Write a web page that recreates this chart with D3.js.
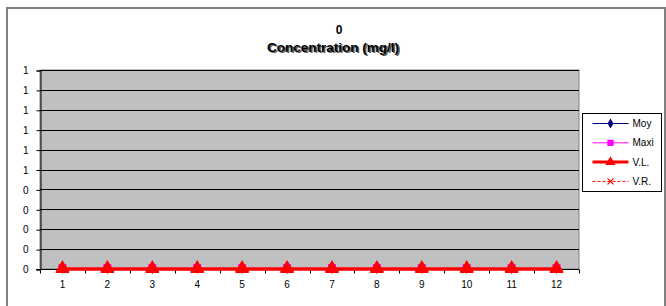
<!DOCTYPE html>
<html>
<head>
<meta charset="utf-8">
<script src="https://cdn.jsdelivr.net/npm/d3@7"></script>
<style>
  body { margin: 0; background: #fff; }
  svg { font-family: "Liberation Sans", Arial, sans-serif; }
</style>
</head>
<body>
<figure id="chart" style="margin:0"></figure>
<script>
const months = ["1", "2", "3", "4", "5", "6", "7", "8", "9", "10", "11", "12"];
const moy = [0, 0, 0, 0, 0, 0, 0, 0, 0, 0, 0, 0];
const maxi = [0, 0, 0, 0, 0, 0, 0, 0, 0, 0, 0, 0];
const vl = [0, 0, 0, 0, 0, 0, 0, 0, 0, 0, 0, 0];
const vr = [0, 0, 0, 0, 0, 0, 0, 0, 0, 0, 0, 0];
const yTicks = [0, 0.1, 0.2, 0.3, 0.4, 0.5, 0.6, 0.7, 0.8, 0.9, 1];
const yTickLabels = ["0", "0", "0", "0", "0", "1", "1", "1", "1", "1", "1"];
const titleTop = "0";
const titleSub = "Concentration (mg/l)";

const width = 666;
const height = 306;
const plot = {left: 40, top: 70, right: 579, bottom: 269};

const svg = d3.select("figure#chart")
  .append("svg")
  .attr("width", width)
  .attr("height", height);

// chart area frame
svg.append("rect")
  .attr("x", 7).attr("y", 8)
  .attr("width", 658).attr("height", 310)
  .attr("fill", "#fff")
  .attr("stroke", "#808080")
  .attr("stroke-width", 2);

// titles
svg.append("text")
  .attr("x", 339).attr("y", 34)
  .attr("text-anchor", "middle")
  .style("font-size", "12px").style("font-weight", "bold")
  .text(titleTop);

// the subtitle is drawn twice, slightly offset, like the blurred original
[1.5, 0].forEach(dx => {
  svg.append("text")
    .attr("x", 333 + dx).attr("y", 52 + dx * 0.7)
    .attr("text-anchor", "middle")
    .attr("fill", dx ? "#333" : "#000")
    .attr("fill-opacity", dx ? 0.8 : 1)
    .style("font-size", "13.5px").style("font-weight", "bold")
    .text(titleSub);
});

const x = d3.scaleBand()
  .domain(months)
  .range([plot.left, plot.right]);

const y = d3.scaleLinear()
  .domain([0, 1])
  .range([plot.bottom, plot.top]);

// plot area
svg.append("rect")
  .attr("x", plot.left).attr("y", plot.top)
  .attr("width", plot.right - plot.left).attr("height", plot.bottom - plot.top)
  .attr("fill", "#c0c0c0")
  .attr("stroke", "#808080")
  .attr("stroke-width", 1);

// gridlines
svg.append("g")
  .selectAll("line")
  .data(yTicks.slice(1))
  .enter()
  .append("line")
  .attr("x1", plot.left).attr("x2", plot.right)
  .attr("y1", d => Math.round(y(d)) + 0.5)
  .attr("y2", d => Math.round(y(d)) + 0.5)
  .attr("stroke", "#000")
  .attr("stroke-width", 1);

// y axis
const yAxis = d3.axisLeft(y)
  .tickValues(yTicks)
  .tickSize(4)
  .tickFormat((d, i) => yTickLabels[i]);

svg.append("g")
  .attr("transform", "translate(" + (plot.left + 0.5) + ",0.5)")
  .call(yAxis)
  .call(g => g.select(".domain").attr("stroke", "#000"))
  .call(g => g.selectAll("text").style("font-size", "10px").attr("dx", "-0.5em").attr("fill", "#000"));

// x axis: ticks at band edges
const xAxisG = svg.append("g")
  .attr("transform", "translate(0," + (plot.bottom + 0.5) + ")");
xAxisG.append("line")
  .attr("x1", plot.left - 4).attr("x2", plot.right)
  .attr("stroke", "#000");
xAxisG.selectAll("line.tick")
  .data(months.concat(["end"]))
  .enter()
  .append("line")
  .attr("class", "tick")
  .attr("x1", (d, i) => Math.round(plot.left + i * x.bandwidth()) + 0.5)
  .attr("x2", (d, i) => Math.round(plot.left + i * x.bandwidth()) + 0.5)
  .attr("y1", 0).attr("y2", 4)
  .attr("stroke", "#000");
xAxisG.selectAll("text")
  .data(months)
  .enter()
  .append("text")
  .attr("x", d => x(d) + x.bandwidth() / 2)
  .attr("y", 18)
  .attr("text-anchor", "middle")
  .style("font-size", "10px")
  .text(d => d);

const cx = (d, i) => x(months[i]) + x.bandwidth() / 2;

const series = [
  {name: "Moy", values: moy, color: "#000080", width: 1, dash: null, marker: "diamond"},
  {name: "Maxi", values: maxi, color: "#ff00ff", width: 1, dash: null, marker: "square"},
  {name: "V.L.", values: vl, color: "#ff0000", width: 3, dash: null, marker: "triangle"},
  {name: "V.R.", values: vr, color: "#ff0000", width: 1, dash: "3,2", marker: "cross"}
];

const symbolFor = {
  diamond: d3.symbol().type(d3.symbolDiamond).size(30),
  square: d3.symbol().type(d3.symbolSquare).size(40),
  triangle: d3.symbol().type(d3.symbolTriangle).size(45),
  bigSquare: d3.symbol().type(d3.symbolSquare).size(64),
  bigTriangle: d3.symbol().type(d3.symbolTriangle).size(85)
};

function drawMarker(g, s, px, py, big) {
  if (s.marker === "cross") {
    g.append("path")
      .attr("d", "M" + (px - 3) + "," + (py - 3) + "L" + (px + 3) + "," + (py + 3) +
        "M" + (px - 3) + "," + (py + 3) + "L" + (px + 3) + "," + (py - 3))
      .attr("stroke", s.color).attr("stroke-width", 1.2);
  } else {
    let key = s.marker;
    if (big && (key === "square" || key === "triangle")) key = "big" + key[0].toUpperCase() + key.slice(1);
    g.append("path")
      .attr("d", symbolFor[key]())
      .attr("transform", "translate(" + px + "," + py + ")")
      .attr("fill", s.color);
  }
}

const line = d3.line()
  .x(cx)
  .y(d => y(d));

series.forEach(s => {
  const g = svg.append("g");
  g.append("path")
    .datum(s.values)
    .attr("d", line)
    .attr("fill", "none")
    .attr("stroke", s.color)
    .attr("stroke-width", s.width)
    .attr("stroke-dasharray", s.dash);
  s.values.forEach((v, i) => drawMarker(g, s, cx(v, i), y(v) - (s.marker === "square" ? 1 : 0), true));
});

// redraw V.L. on top so it dominates as in the original
const vlSeries = series[2];
const vlTop = svg.append("g");
vlTop.append("path")
  .datum(vlSeries.values)
  .attr("d", line)
  .attr("fill", "none")
  .attr("stroke", vlSeries.color)
  .attr("stroke-width", vlSeries.width);
vlSeries.values.forEach((v, i) => drawMarker(vlTop, vlSeries, cx(v, i), y(v) - 1, true));

// legend
const legend = svg.append("g").attr("transform", "translate(582.5,113.5)");
legend.append("rect")
  .attr("width", 79).attr("height", 78)
  .attr("fill", "#fff")
  .attr("stroke", "#000");

series.forEach((s, i) => {
  const ly = 10 + i * 19.3;
  const row = legend.append("g");
  row.append("line")
    .attr("x1", 10).attr("x2", 46)
    .attr("y1", ly).attr("y2", ly)
    .attr("stroke", s.color)
    .attr("stroke-width", s.width)
    .attr("stroke-dasharray", s.dash);
  drawMarker(row, s, 28, ly, false);
  row.append("text")
    .attr("x", 50).attr("y", ly + 3.5)
    .style("font-size", "10px")
    .text(s.name);
});
</script>
</body>
</html>
